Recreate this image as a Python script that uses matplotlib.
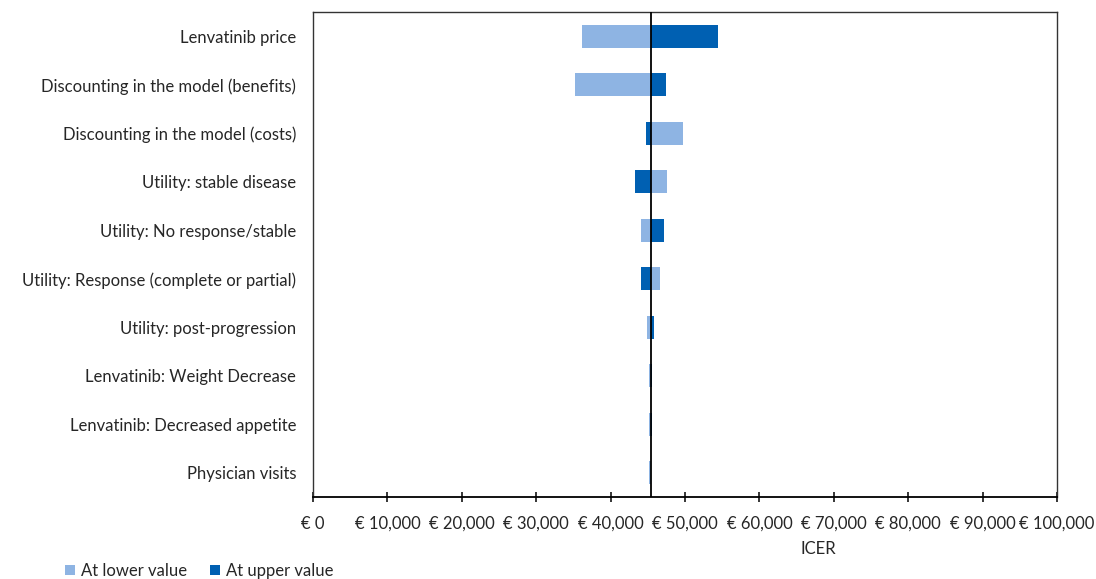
import matplotlib
matplotlib.use("Agg")
import matplotlib.pyplot as plt
from matplotlib.ticker import FuncFormatter, MultipleLocator
from matplotlib.patches import Patch

plt.rcParams['font.family'] = ['Lato', 'DejaVu Sans']

# Tornado diagram data (ICER in EUR)
parameters = [
    "Lenvatinib price",
    "Discounting in the model (benefits)",
    "Discounting in the model (costs)",
    "Utility: stable disease",
    "Utility: No response/stable",
    "Utility: Response (complete or partial)",
    "Utility: post-progression",
    "Lenvatinib: Weight Decrease",
    "Lenvatinib: Decreased appetite",
    "Physician visits",
]
base_icer = 45480
icer_lower = [36200, 35200, 49740, 47640, 44140, 46600, 44950, 45150, 45170, 45170]
icer_upper = [54500, 47450, 44760, 43330, 47190, 44140, 45800, 45550, 45500, 45450]

light_blue = "#8EB4E3"
dark_blue = "#0060B2"
text_color = "#262626"
fs = 12

fig = plt.figure(figsize=(10.96, 5.79), dpi=100)
ax = fig.add_axes([313 / 1096, 1 - 497 / 579, (1057 - 313) / 1096, (497 - 12) / 579])

ypos = list(range(len(parameters)))
bar_h = 0.48
ax.barh(ypos, [v - base_icer for v in icer_lower], left=base_icer, height=bar_h,
        color=light_blue, edgecolor="none", zorder=2)
ax.barh(ypos, [v - base_icer for v in icer_upper], left=base_icer, height=bar_h,
        color=dark_blue, edgecolor="none", zorder=3)

ax.axvline(base_icer, color="black", lw=1.3, zorder=4)

ax.set_xlim(0, 100000)
ax.set_ylim(len(parameters) - 0.5, -0.5)
ax.xaxis.set_major_locator(MultipleLocator(10000))
ax.xaxis.set_major_formatter(FuncFormatter(lambda v, p: f"€ {int(v):,}"))
ax.set_yticks(ypos)
ax.set_yticklabels(parameters)
ax.tick_params(axis="y", length=0, pad=12, labelsize=fs, labelcolor=text_color)
ax.tick_params(axis="x", direction="inout", length=7, width=1.1, pad=10,
               labelsize=fs, colors="black", labelcolor=text_color)

for side in ["top", "right", "left"]:
    ax.spines[side].set_color("#333333")
    ax.spines[side].set_linewidth(1.0)
ax.spines["bottom"].set_color("black")
ax.spines["bottom"].set_linewidth(1.3)

fig.text(818 / 1096, 1 - 549 / 579, "ICER", fontsize=fs, color=text_color,
         ha="center", va="center")

handles = [Patch(facecolor=light_blue, label="At lower value"),
           Patch(facecolor=dark_blue, label="At upper value")]
fig.legend(handles=handles, loc="center left", bbox_to_anchor=(50 / 1096, 8 / 579),
           ncol=2, frameon=False, fontsize=fs, handlelength=0.6, handleheight=0.6,
           handletextpad=0.35, columnspacing=1.4, labelcolor=text_color)

fig.savefig("out.png", dpi=100)
